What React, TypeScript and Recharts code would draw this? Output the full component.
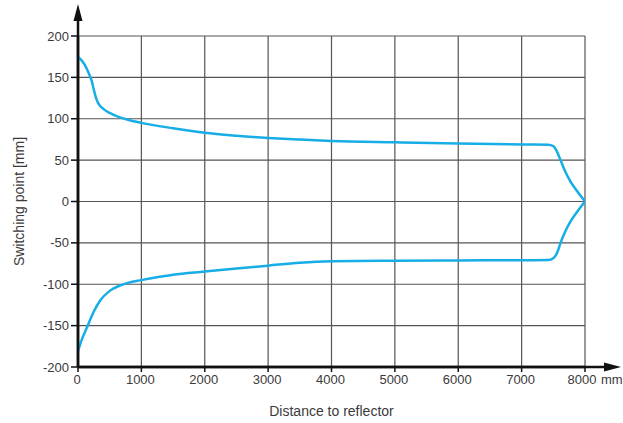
import React from 'react';
import { LineChart, Line, XAxis, YAxis, CartesianGrid, usePlotArea } from 'recharts';

const xTicks = [0, 1000, 2000, 3000, 4000, 5000, 6000, 7000, 8000];
const yTicks = [-200, -150, -100, -50, 0, 50, 100, 150, 200];

const upperX = [0, 100, 170, 215, 250, 285, 330, 400, 500, 650, 800, 1000, 1500, 2000, 2500, 3000, 3500, 4000, 5000, 6000, 7000, 7420, 7500, 7560, 7614, 7690, 7772, 7880, 8000];
const upperY = [175, 166, 155, 146, 135, 125, 117.5, 112, 107, 102, 98.5, 95, 88.5, 83, 79.5, 76.8, 74.8, 73.2, 71.5, 70, 69, 68.7, 67, 60, 50, 36, 24, 12, 0];

const lowerX = [0, 60, 137, 250, 347, 500, 663, 800, 1000, 1500, 2000, 2500, 3000, 3500, 4000, 5000, 6000, 7000, 7420, 7500, 7560, 7614, 7690, 7772, 7880, 8000];
const lowerY = [-181, -167, -153, -133, -120, -108, -101.5, -98, -95, -88.5, -84.7, -81, -77.5, -74, -72.2, -71.5, -71.2, -71, -70.8, -68.5, -62, -50, -36, -24, -12, 0];

const upper = upperX.map((x, i) => ({ x, y: upperY[i] }));
const lower = lowerX.map((x, i) => ({ x, y: lowerY[i] }));

const LINE_COLOR = '#17ade6';
const TEXT = '#3a3a3a';
const FONT = 'Liberation Sans, Arial, sans-serif';

function Arrows() {
  const area = usePlotArea();
  if (!area) return null;
  const { x, y, width, height } = area;
  const bottom = y + height;
  const right = x + width;
  return (
    <g>
      <line x1={x} y1={bottom} x2={x} y2={y - 20} stroke="#111" strokeWidth={2.5} />
      <polygon points={`${x},${y - 32} ${x - 4.5},${y - 15} ${x + 4.5},${y - 15}`} fill="#111" />
      <line x1={x} y1={bottom} x2={right + 22} y2={bottom} stroke="#111" strokeWidth={2.5} />
      <polygon points={`${right + 36},${bottom} ${right + 19},${bottom - 4.5} ${right + 19},${bottom + 4.5}`} fill="#111" />
    </g>
  );
}

function XTick(props: any) {
  const { x, y, payload } = props;
  const v = payload.value;
  return (
    <g>
      <text x={v === 8000 ? x - 3 : x - 1} y={y} dy={10} textAnchor="middle" fill={TEXT} fontSize={13} fontFamily={FONT}>{String(v)}</text>
      {v === 8000 && (
        <text x={x + 16} y={y} dy={10} textAnchor="start" fill={TEXT} fontSize={13} fontFamily={FONT}>mm</text>
      )}
    </g>
  );
}

export default function App() {
  return (
    <div style={{ position: 'absolute', left: 0, top: 0, background: '#fff' }}>
      <LineChart width={623} height={423} margin={{ top: 36, right: 38, bottom: 0, left: 0 }}>
        <CartesianGrid stroke="#555" strokeWidth={1.2} />
        <XAxis
          type="number"
          dataKey="x"
          domain={[0, 8000]}
          ticks={xTicks}
          interval={0}
          allowDataOverflow
          height={56}
          axisLine={{ stroke: '#111', strokeWidth: 2.5 }}
          tickLine={{ stroke: '#111', strokeWidth: 1.5 }}
          tickSize={5}
          tick={<XTick />}
          label={{ value: 'Distance to reflector', position: 'insideBottom', offset: 7, fill: TEXT, fontSize: 14, fontFamily: FONT }}
        />
        <YAxis
          type="number"
          domain={[-200, 200]}
          ticks={yTicks}
          interval={0}
          allowDataOverflow
          width={78}
          axisLine={{ stroke: '#111', strokeWidth: 2.5 }}
          tickLine={{ stroke: '#111', strokeWidth: 1.5 }}
          tickSize={7}
          tickMargin={2}
          tick={{ fill: TEXT, fontSize: 13, fontFamily: FONT }}
          label={{ value: 'Switching point [mm]', angle: -90, position: 'insideLeft', offset: 19, style: { textAnchor: 'middle' }, fill: TEXT, fontSize: 14, fontFamily: FONT }}
        />
        <Line data={upper} dataKey="y" type="monotone" stroke={LINE_COLOR} strokeWidth={2.5} dot={false} isAnimationActive={false} />
        <Line data={lower} dataKey="y" type="monotone" stroke={LINE_COLOR} strokeWidth={2.5} dot={false} isAnimationActive={false} />
        <Arrows />
      </LineChart>
    </div>
  );
}
